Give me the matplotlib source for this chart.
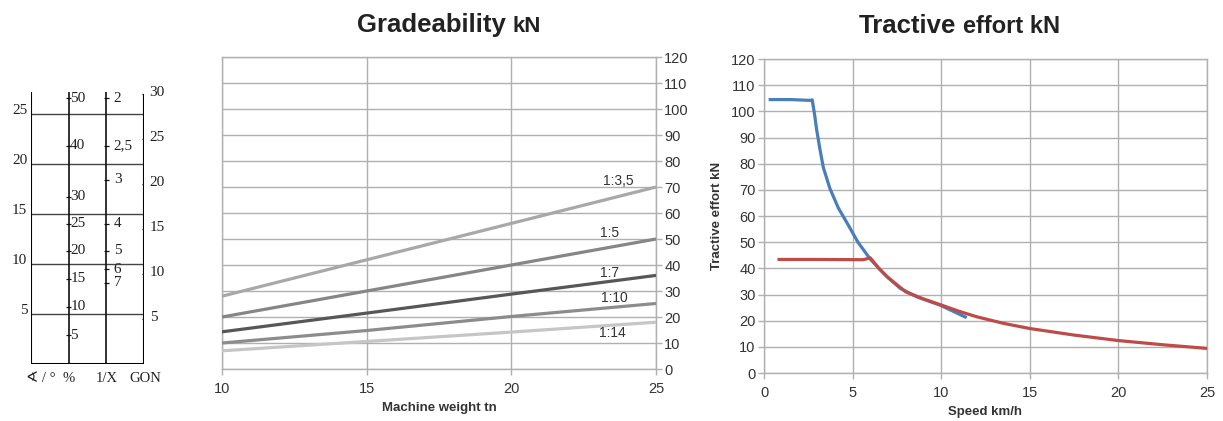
import matplotlib
matplotlib.use("Agg")
import matplotlib.pyplot as plt

plt.rcParams['font.family'] = ['Liberation Sans', 'DejaVu Sans']

# nomogram (slope in degrees on the left scale)
deg_labels = [5, 10, 15, 20, 25]
pct_labels = ['5', '10', '15', '20', '25', '30', '40', '50']
pct_deg = [2.86, 5.71, 8.53, 11.31, 14.04, 16.70, 21.80, 26.57]
ratio_labels = ['2', '2,5', '3', '4', '5', '6', '7']
ratio_deg = [26.57, 21.80, 18.43, 14.04, 11.31, 9.46, 8.13]
gon_labels = ['5', '10', '15', '20', '25', '30']
gon_deg = [4.5, 9.0, 13.5, 18.0, 22.5, 27.0]
scale_names = ['\u2222 / \u00b0', '%', '1/X', 'GON']

# gradeability
weight = [10, 15, 20, 25]
grade_names = ['1:3,5', '1:5', '1:7', '1:10', '1:14']
grade_vals = [
    [28.0, 42.0, 56.0, 70.0],
    [20.0, 30.0, 40.0, 50.0],
    [14.3, 21.5, 28.8, 36.0],
    [10.0, 14.8, 20.2, 25.2],
    [7.0, 10.6, 14.2, 18.0],
]
grade_colors = ['#a8a8a8', '#868686', '#575757', '#8c8c8c', '#c6c6c6']
grade_label_pos = [(23.7, 72.5), (23.4, 52.5), (23.4, 37.0), (23.55, 27.5), (23.5, 13.8)]

# tractive effort
blue_speed = [0.35, 1.5, 2.6, 2.72, 2.85, 2.97, 3.16, 3.35, 3.72, 4.2, 4.76, 5.3, 6.0,
              6.94, 7.7, 8.63, 9.95, 11.36]
blue_force = [104.5, 104.5, 104.2, 104.4, 99.0, 93.0, 85.4, 78.5, 70.5, 63.0, 56.5, 50.0, 43.5,
              36.8, 32.3, 29.1, 25.9, 21.4]
red_speed = [0.85, 3.0, 5.6, 6.0, 6.5, 7.0, 8.0, 9.0, 10.0, 11.0, 12.0, 13.5, 15.0,
             17.5, 20.0, 22.5, 25.0]
red_force = [43.4, 43.4, 43.3, 44.0, 39.8, 36.5, 31.0, 28.3, 26.0, 23.6, 21.5, 19.0, 17.0,
             14.5, 12.4, 10.8, 9.4]

grid_c = '#b0b0b0'
text_c = '#333333'

fig = plt.figure(figsize=(12.23, 4.21), dpi=100)

# ---------- nomogram ----------
ax0 = fig.add_axes([0.02535, 0.1354, 0.0924, 0.6461])
ax0.set_xlim(0, 3)
ax0.set_ylim(0, 27.2)
ax0.axis('off')
serif = ['Liberation Serif', 'DejaVu Serif', 'DejaVu Sans']
ax0.hlines(deg_labels, 0, 3, color='#444444', lw=1.0)
ax0.vlines([0], 0, 27.2, color='black', lw=1.5)
ax0.vlines([1, 2], 0, 27.2, color='#111111', lw=1.2)
ax0.vlines([3], 0, 27.0, color='black', lw=1.5)
ax0.hlines([0], 0, 3, color='black', lw=2.2)
for d in deg_labels:
    ax0.text(-0.1, d + 0.3, str(d), ha='right', va='center', family=serif,
             fontsize=11, color='#222222', clip_on=False)
ax0.hlines(pct_deg, 0.93, 1.07, color='#111111', lw=0.9)
for lab, d in zip(pct_labels, pct_deg):
    ax0.text(1.04, d, lab, ha='left', va='center', family=serif, fontsize=11, color='#222222')
ax0.hlines(ratio_deg, 1.93, 2.07, color='#111111', lw=0.9)
for lab, d in zip(ratio_labels, ratio_deg):
    ax0.text(2.2, d, lab, ha='left', va='center', family=serif, fontsize=11, color='#222222')
ax0.hlines(gon_deg, 2.94, 3.06, color='#111111', lw=0.9)
for lab, d in zip(gon_labels, gon_deg):
    ax0.text(3.15, d + 0.1, lab, ha='left', va='center', family=serif, fontsize=11,
             color='#222222', clip_on=False)
for xpos, name in zip([0.25, 1.0, 2.0, 3.03], scale_names):
    ax0.text(xpos, -1.45, name, ha='center', va='center', family=serif, fontsize=10.5,
             color='#222222', clip_on=False)

# ---------- gradeability ----------
ax1 = fig.add_axes([0.1815, 0.1235, 0.3549, 0.7411])
for vals, col in zip(grade_vals, grade_colors):
    ax1.plot(weight, vals, color=col, lw=2.3, solid_capstyle='butt', zorder=3)
for name, (lx, ly) in zip(grade_names, grade_label_pos):
    ax1.text(lx, ly, name, ha='center', va='center', fontsize=10, color=text_c, zorder=4)
ax1.set_xlim(10, 25)
ax1.set_ylim(0, 120)
ax1.set_xticks([10, 15, 20, 25])
ax1.set_yticks(range(0, 121, 10))
ax1.yaxis.tick_right()
ax1.grid(True, color=grid_c, lw=1.0)
for sp in ax1.spines.values():
    sp.set_color(grid_c)
    sp.set_linewidth(1.0)
ax1.tick_params(colors=grid_c, labelcolor=text_c, labelsize=10.5, length=4, width=1.0)
ax1.tick_params(axis='x', pad=5)
ax1.tick_params(axis='y', pad=2)
ax1.set_xlabel('Machine weight tn', fontsize=9.5, fontweight='bold', color=text_c, labelpad=5)
fig.text(357 / 1223, 1 - 32 / 421, 'Gradeability', fontsize=18.5, fontweight='bold',
         color='#222222', va='baseline', ha='left')
fig.text(513 / 1223, 1 - 32 / 421, 'kN', fontsize=16, fontweight='bold',
         color='#222222', va='baseline', ha='left')

# ---------- tractive effort ----------
ax2 = fig.add_axes([0.6247, 0.1140, 0.3622, 0.7458])
ax2.plot(blue_speed, blue_force, color='#4a7ebb', lw=2.3, zorder=3)
ax2.plot(red_speed, red_force, color='#be4b48', lw=2.3, zorder=4)
ax2.set_xlim(0, 25)
ax2.set_ylim(0, 120)
ax2.set_xticks(range(0, 26, 5))
ax2.set_yticks(range(0, 121, 10))
ax2.grid(True, color=grid_c, lw=1.0)
for sp in ax2.spines.values():
    sp.set_color(grid_c)
    sp.set_linewidth(1.0)
ax2.tick_params(colors=grid_c, labelcolor=text_c, labelsize=10.5, length=4, width=1.0)
ax2.tick_params(axis='x', pad=5)
ax2.tick_params(axis='y', pad=2)
ax2.set_xlabel('Speed km/h', fontsize=9.5, fontweight='bold', color=text_c, labelpad=5)
ax2.set_ylabel('Tractive effort kN', fontsize=9.5, fontweight='bold', color=text_c, labelpad=6)
fig.text(859 / 1223, 1 - 33 / 421, 'Tractive', fontsize=18.5, fontweight='bold',
         color='#222222', va='baseline', ha='left')
fig.text(963 / 1223, 1 - 33 / 421, 'effort kN', fontsize=17, fontweight='bold',
         color='#222222', va='baseline', ha='left')

fig.savefig('out.png', dpi=100)
